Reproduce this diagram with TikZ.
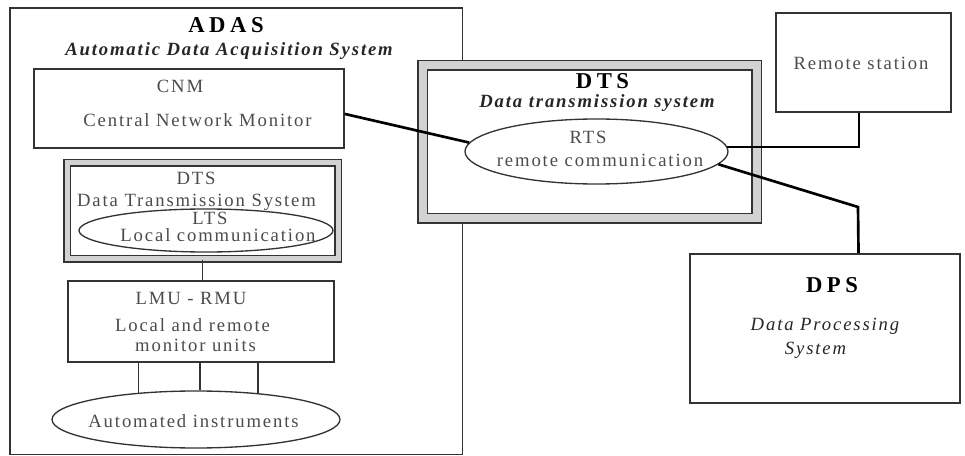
\documentclass[tikz,border=0pt]{standalone}
\usepackage{fontspec}
\setmainfont{Liberation Serif}[LetterSpace=10]
\newfontfamily\ttlfont{Liberation Serif}[LetterSpace=20]
\usetikzlibrary{shapes.geometric}

\tikzset{
  box/.style={draw=black!80, line width=1.2pt, fill=white, inner sep=0pt},
  oval/.style={ellipse, draw=black!80, line width=1pt, inner sep=0pt},
  dblframe/.style={draw=black!80, line width=1.1pt, double=gray!35, double distance=#1, fill=white, inner sep=0pt},
  lbl/.style={anchor=base, inner sep=0pt, text=black!70, font=\fontsize{14}{16}\selectfont},
  ttl/.style={anchor=base, inner sep=0pt, font=\ttlfont\fontsize{17}{20}\selectfont\bfseries},
  subttl/.style={anchor=base, inner sep=0pt, text=black!85, font=\fontsize{14}{16}\selectfont\bfseries\itshape},
  link/.style={line width=2pt},
  wire/.style={draw=black!80, line width=1.2pt}
}

\begin{document}
\begin{tikzpicture}[x=0.75pt, y=-0.75pt]
  \useasboundingbox (0,0) rectangle (965,456);

  \node[box, minimum width=339.4pt, minimum height=334.9pt] (adas) at (236.25,231.25) {};
  \node[ttl] (adasname) at (226,33) {ADAS};
  \node[subttl] (adasfull) at (229,56) {Automatic Data Acquisition System};

  \node[box, minimum width=232.5pt, minimum height=59.25pt] (cnm) at (189,108.5) {};
  \node[lbl] (cnmname) at (180,93) {CNM};
  \node[lbl] (cnmfull) at (197.5,127) {Central Network Monitor};

  \node[dblframe=3.75pt, minimum width=203.25pt, minimum height=72pt] (ldts) at (202.5,211) {};
  \node[oval, minimum width=190.5pt, minimum height=32.25pt] (lts) at (206,230.5) {};
  \node[lbl] (ldtsname) at (196,185) {DTS};
  \node[lbl] (ldtsfull) at (196.5,207) {Data Transmission System};
  \node[lbl] (ltsname) at (210,225) {LTS};
  \node[lbl] (ltsfull) at (218,242) {Local communication};

  \node[box, minimum width=199.5pt, minimum height=60.75pt] (lmu) at (201,321.5) {};
  \node[lbl] (lmuname) at (191,305) {LMU - RMU};
  \node[lbl] (lmufull1) at (192.5,332) {Local and remote};
  \node[lbl] (lmufull2) at (195.5,352) {monitor units};

  \node[oval, minimum width=216pt, minimum height=42.75pt] (instr) at (196,419.5) {};
  \node[lbl] (instrname) at (193.5,427) {Automated instruments};

  \draw[wire] (ldts.south) -- (ldts.south |- lmu.north);
  \foreach \a in {155,82,23.3}
    \draw[wire] (lmu.south -| instr.\a) -- (instr.\a);

  \node[dblframe=6pt, minimum width=250.5pt, minimum height=114.75pt] (rdts) at (589.5,142) {};
  \node[oval, minimum width=197.25pt, minimum height=48.75pt] (rts) at (596.5,151.5) {};
  \node[ttl] (rdtsname) at (602.5,89) {DTS};
  \node[subttl] (rdtsfull) at (597,108) {Data transmission system};
  \node[lbl] (rtsname) at (588,144) {RTS};
  \node[lbl] (rtsfull) at (600,167) {remote communication};

  \node[box, minimum width=131.25pt, minimum height=74.25pt] (remote) at (863.5,62.5) {};
  \node[lbl] (remotename) at (861,70) {Remote station};

  \node[box, minimum width=202.5pt, minimum height=111.75pt] (dps) at (825,328.5) {};
  \node[ttl] (dpsname) at (832,293) {DPS};
  \node[subttl, font=\fontsize{14}{16}\selectfont\itshape] (dpsfull1) at (825,330) {Data Processing};
  \node[subttl, font=\fontsize{14}{16}\selectfont\itshape] (dpsfull2) at (815.5,354) {System};

  \coordinate (bend) at (858,207);
  \draw[link] (cnm.-2) -- (rts.176);
  \draw[link] (rts.2) -| (remote.-95);
  \draw[link] (rts.-6.4) -- (bend) -- (dps.66);
\end{tikzpicture}
\end{document}
